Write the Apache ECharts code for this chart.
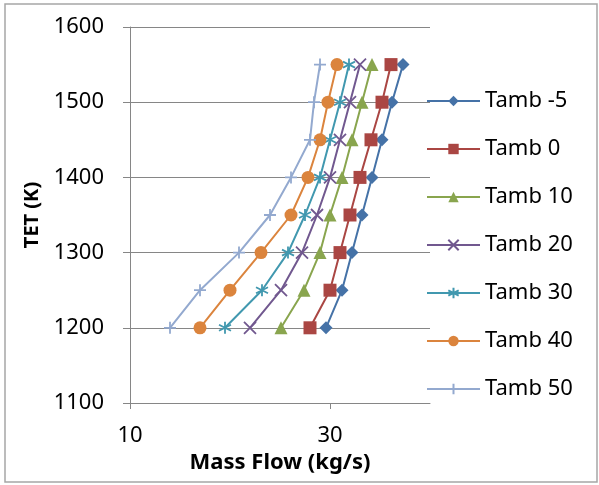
<!DOCTYPE html>
<html>
<head>
<meta charset="utf-8">
<script src="https://cdn.jsdelivr.net/npm/echarts@6/dist/echarts.min.js"></script>
<style>
  html, body { margin: 0; padding: 0; background: #fff; }
  #main { width: 599px; height: 485px; }
</style>
</head>
<body>
<div id="main"></div>
<script>
// TET levels (y) and mass flow per ambient temperature (x)
const tet = [1200, 1250, 1300, 1350, 1400, 1450, 1500, 1550]
const names = ['Tamb -5', 'Tamb 0', 'Tamb 10', 'Tamb 20', 'Tamb 30', 'Tamb 40', 'Tamb 50']
const flowM5 = [29.6, 31.2, 32.2, 33.2, 34.2, 35.2, 36.2, 37.3]
const flow0 = [28.0, 30.0, 31.0, 32.0, 33.0, 34.1, 35.2, 36.1]
const flow10 = [25.1, 27.4, 29.0, 30.0, 31.2, 32.2, 33.2, 34.2]
const flow20 = [22.0, 25.1, 27.2, 28.7, 30.0, 31.0, 32.0, 33.0]
const flow30 = [19.5, 23.2, 25.8, 27.5, 29.0, 30.0, 31.0, 31.9]
const flow40 = [17.0, 20.0, 23.1, 26.1, 27.8, 29.0, 29.8, 30.7]
const flow50 = [14.0, 17.0, 20.9, 24.0, 26.1, 28.0, 28.4, 29.0]
const xTicks = [10, 30]

const flows = [flowM5, flow0, flow10, flow20, flow30, flow40, flow50]
const colors = ['#4572A7', '#AA4643', '#89A54E', '#71588F', '#4198AF', '#DB843D', '#93A9CF']
const symbols = [
  'diamond',
  'rect',
  'triangle',
  'path://M0,0L10,10M10,0L0,10',
  'path://M5,0L5,10M0.7,2.5L9.3,7.5M0.7,7.5L9.3,2.5',
  'circle',
  'path://M5,0L5,10M0,5L10,5'
]
const sizes = [13, 13, 13, 12, 12, 13, 12]
const font = '"Noto Sans", "Open Sans", sans-serif'

const chart = echarts.init(document.getElementById('main'))
chart.setOption({
  animation: false,
  color: colors,
  textStyle: { fontFamily: font },
  graphic: [{
    type: 'rect',
    shape: { x: 5, y: 4, width: 592, height: 478 },
    style: { fill: 'none', stroke: '#a6a6a6', lineWidth: 1.5 }
  }],
  grid: { left: 130, right: 169, top: 27, bottom: 82 },
  legend: {
    orient: 'vertical',
    left: 421,
    top: 85,
    itemWidth: 53,
    itemHeight: 13,
    itemGap: 26,
    textStyle: { fontSize: 22, color: '#000', fontFamily: font },
    data: names
  },
  xAxis: {
    type: 'value',
    min: 10,
    max: 40,
    interval: 20,
    name: 'Mass Flow (kg/s)',
    nameLocation: 'middle',
    nameGap: 44,
    nameTextStyle: { fontSize: 22, fontWeight: 'bold', color: '#000' },
    axisLine: { lineStyle: { color: '#868686', width: 1 } },
    axisTick: { show: true, customValues: xTicks, length: 6, lineStyle: { color: '#868686' } },
    axisLabel: { customValues: xTicks, fontSize: 22, color: '#000', margin: 22 },
    splitLine: { show: false }
  },
  yAxis: {
    type: 'value',
    min: 1100,
    max: 1600,
    interval: 100,
    name: 'TET (K)',
    nameLocation: 'middle',
    nameGap: 88,
    nameTextStyle: { fontSize: 20, fontWeight: 'bold', color: '#000' },
    axisLine: { show: true, lineStyle: { color: '#868686', width: 1 } },
    axisTick: { show: true, length: 7, lineStyle: { color: '#868686' } },
    axisLabel: { fontSize: 22, color: '#000', margin: 26, formatter: v => String(v) },
    splitLine: { show: true, lineStyle: { color: '#868686', width: 1 } }
  },
  series: names.map((name, i) => ({
    name: name,
    type: 'line',
    symbol: symbols[i],
    symbolSize: sizes[i],
    lineStyle: { width: 2, color: colors[i] },
    itemStyle: {
      color: colors[i],
      borderColor: colors[i],
      borderWidth: symbols[i].startsWith('path') ? 1.8 : 0
    },
    data: flows[i].map((v, k) => [v, tet[k]])
  }))
})
</script>
</body>
</html>
